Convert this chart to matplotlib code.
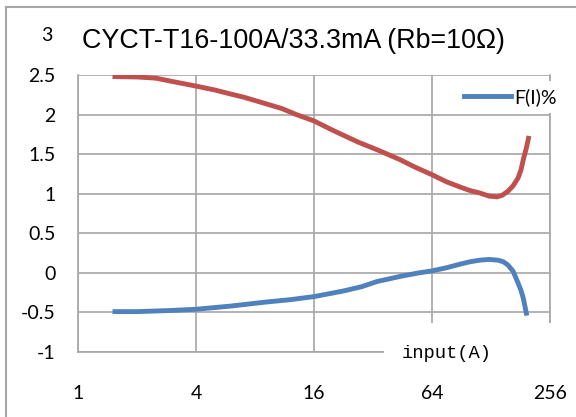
import matplotlib
matplotlib.use("Agg")
import matplotlib.pyplot as plt
from matplotlib.lines import Line2D
from matplotlib.patches import Rectangle

# values
red_x = [1.5, 2, 2.5, 3, 4, 5, 6, 7, 9, 11, 13, 16, 20, 27, 34, 44, 52, 64, 76,
         90, 100, 112, 125, 137, 146, 156, 166, 176, 182, 187, 194, 200]
red_y = [2.48, 2.475, 2.46, 2.42, 2.36, 2.31, 2.26, 2.22, 2.14, 2.075, 2.0, 1.92,
         1.80, 1.65, 1.55, 1.43, 1.34, 1.24, 1.15, 1.08, 1.04, 1.01, 0.97, 0.96,
         0.98, 1.03, 1.10, 1.20, 1.30, 1.43, 1.58, 1.73]
blue_x = [1.5, 2, 3, 4, 6, 9, 12, 16, 22.5, 28, 33.5, 38, 45, 55, 64, 76, 89,
          100, 112, 125, 139, 148, 156, 166, 176, 182, 187, 191, 195]
blue_y = [-0.49, -0.49, -0.475, -0.46, -0.42, -0.37, -0.34, -0.30, -0.23, -0.175,
          -0.11, -0.08, -0.04, 0.0, 0.025, 0.065, 0.11, 0.14, 0.16, 0.17, 0.16,
          0.14, 0.10, 0.02, -0.13, -0.22, -0.32, -0.43, -0.54]

x_ticks = [1, 4, 16, 64, 256]
x_labels = ["1", "4", "16", "64", "256"]
y_ticks = [-1, -0.5, 0, 0.5, 1, 1.5, 2, 2.5]
y_labels = ["-1", "-0.5", "0", "0.5", "1", "1.5", "2", "2.5"]

title = "CYCT-T16-100A/33.3mA (Rb=10\u03a9)"
legend_label = "F(I)%"
axis_label = "input(A)"

grey = "#a6a6a6"
tick_font = "Lato"

fig = plt.figure(figsize=(5.76, 4.17), dpi=100)
ax = fig.add_axes([78 / 576, 1 - 352 / 417, 472 / 576, 277 / 417])

ax.plot(red_x, red_y, color="#c0504d", lw=3.5, solid_capstyle="butt",
        solid_joinstyle="round", zorder=3)
ax.plot(blue_x, blue_y, color="#4f81bd", lw=3.5, solid_capstyle="butt",
        solid_joinstyle="round", zorder=3)

ax.set_xscale("log", base=2)
ax.set_xlim(1, 256)
ax.set_ylim(-1, 2.5)
ax.set_xticks(x_ticks)
ax.set_xticklabels(x_labels, fontfamily=tick_font, fontsize=14)
ax.set_yticks(y_ticks)
ax.set_yticklabels(y_labels, fontfamily=tick_font, fontsize=14)
ax.minorticks_off()
ax.tick_params(axis="both", length=0)
ax.tick_params(axis="x", pad=24)
ax.tick_params(axis="y", pad=16)

ax.grid(True, color=grey, lw=1.2)
ax.set_axisbelow(True)
for side in ["left", "right", "bottom"]:
    ax.spines[side].set_color(grey)
    ax.spines[side].set_linewidth(1.2)
ax.spines["top"].set_visible(False)

# "3" label sits above the plotted range, in line with the title
ax.text(-0.055, 3, "3", transform=ax.get_yaxis_transform(), ha="right",
        va="center", fontfamily=tick_font, fontsize=14, clip_on=False)
ax.text(82 / 576, 1 - 41 / 417, title, transform=fig.transFigure,
        fontfamily="Liberation Sans", fontsize=19.4, ha="left", va="center")

# legend, only the blue series has an entry
handle = Line2D([0], [0], color="#4f81bd", lw=3.5)
leg = ax.legend([handle], [legend_label], loc="center left",
                bbox_to_anchor=(0.783, 0.92), frameon=True, fancybox=False,
                handlelength=2.4, handletextpad=0.2, borderpad=0.35,
                prop={"family": tick_font, "size": 14})
leg.get_frame().set_facecolor("white")
leg.get_frame().set_edgecolor("none")
leg.get_frame().set_alpha(1)

# white box behind the axis title
ax.add_patch(Rectangle((0.648, -0.05), 0.39, 0.155, transform=ax.transAxes,
                       facecolor="white", edgecolor="none", clip_on=False,
                       zorder=4))
ax.text(0.782, -0.004, axis_label, transform=ax.transAxes, ha="center",
        va="center", fontfamily="Liberation Mono", fontsize=13.5, zorder=5)

# outer frame of the chart area
fig.add_artist(Line2D([6 / 576, 6 / 576], [0, 1 - 7 / 417],
                      transform=fig.transFigure, color=grey, lw=1.5))
fig.add_artist(Line2D([6 / 576, 1], [1 - 7 / 417, 1 - 7 / 417],
                      transform=fig.transFigure, color=grey, lw=1.5))

fig.savefig("out.png", dpi=100)
